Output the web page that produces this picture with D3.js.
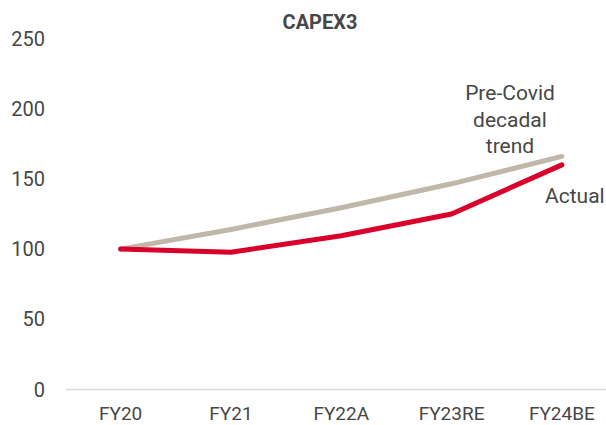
<!DOCTYPE html>
<html>
<head>
<meta charset="utf-8">
<script src="https://cdn.jsdelivr.net/npm/d3@7"></script>
<style>
  body { margin: 0; background: #fff; }
  text { font-family: Roboto, "Noto Sans", sans-serif; fill: #474747; }
</style>
</head>
<body>
<div id="chart"></div>
<script>
var width = 606,
  height = 425;

// data
var years = ["FY20", "FY21", "FY22A", "FY23RE", "FY24BE"];
var trend = [100, 114, 129.5, 146.5, 166];
var actual = [100, 97.8, 109.5, 125, 160];
var yTicks = [0, 50, 100, 150, 200, 250];

var svg = d3.select("#chart").append("svg")
  .attr("width", width)
  .attr("height", height);

var x = d3.scaleBand()
  .domain(years)
  .range([65.5, 617]);

var y = d3.scaleLinear()
  .domain([0, 250])
  .range([389.5, 38.5]);

// title
svg.append("text")
  .attr("x", 320)
  .attr("y", 29)
  .attr("text-anchor", "middle")
  .style("font-size", "20px")
  .style("font-weight", "bold")
  .text("CAPEX3");

// y tick labels
svg.append("g").selectAll("text")
  .data(yTicks)
  .enter().append("text")
  .attr("x", 45)
  .attr("y", function(d) { return y(d); })
  .attr("dy", "0.35em")
  .attr("text-anchor", "end")
  .style("font-size", "20px")
  .text(function(d) { return d; });

// x axis line
svg.append("line")
  .attr("x1", x.range()[0])
  .attr("x2", width)
  .attr("y1", y(0))
  .attr("y2", y(0))
  .attr("stroke", "#d9d9d9")
  .attr("stroke-width", 1.5);

// x labels
svg.append("g").selectAll("text")
  .data(years)
  .enter().append("text")
  .attr("x", function(d) { return x(d) + x.bandwidth() / 2; })
  .attr("y", 420)
  .attr("text-anchor", "middle")
  .style("font-size", "19px")
  .text(function(d) { return d; });

var line = d3.line()
  .x(function(d, i) { return x(years[i]) + x.bandwidth() / 2; })
  .y(function(d) { return y(d); });

svg.append("path")
  .datum(trend)
  .attr("d", line)
  .attr("fill", "none")
  .attr("stroke", "#c0b7a8")
  .attr("stroke-width", 5)
  .attr("stroke-linecap", "round")
  .attr("stroke-linejoin", "round");

svg.append("path")
  .datum(actual)
  .attr("d", line)
  .attr("fill", "none")
  .attr("stroke", "#d9002b")
  .attr("stroke-width", 5)
  .attr("stroke-linecap", "round")
  .attr("stroke-linejoin", "round");

// annotations
var note = svg.append("text")
  .attr("x", 510)
  .attr("text-anchor", "middle")
  .style("font-size", "21px");
["Pre-Covid", "decadal", "trend"].forEach(function(t, i) {
  note.append("tspan")
    .attr("x", 510)
    .attr("y", 100 + i * 26.5)
    .text(t);
});

svg.append("text")
  .attr("x", 545)
  .attr("y", 203)
  .style("font-size", "21px")
  .text("Actual");
</script>
</body>
</html>
